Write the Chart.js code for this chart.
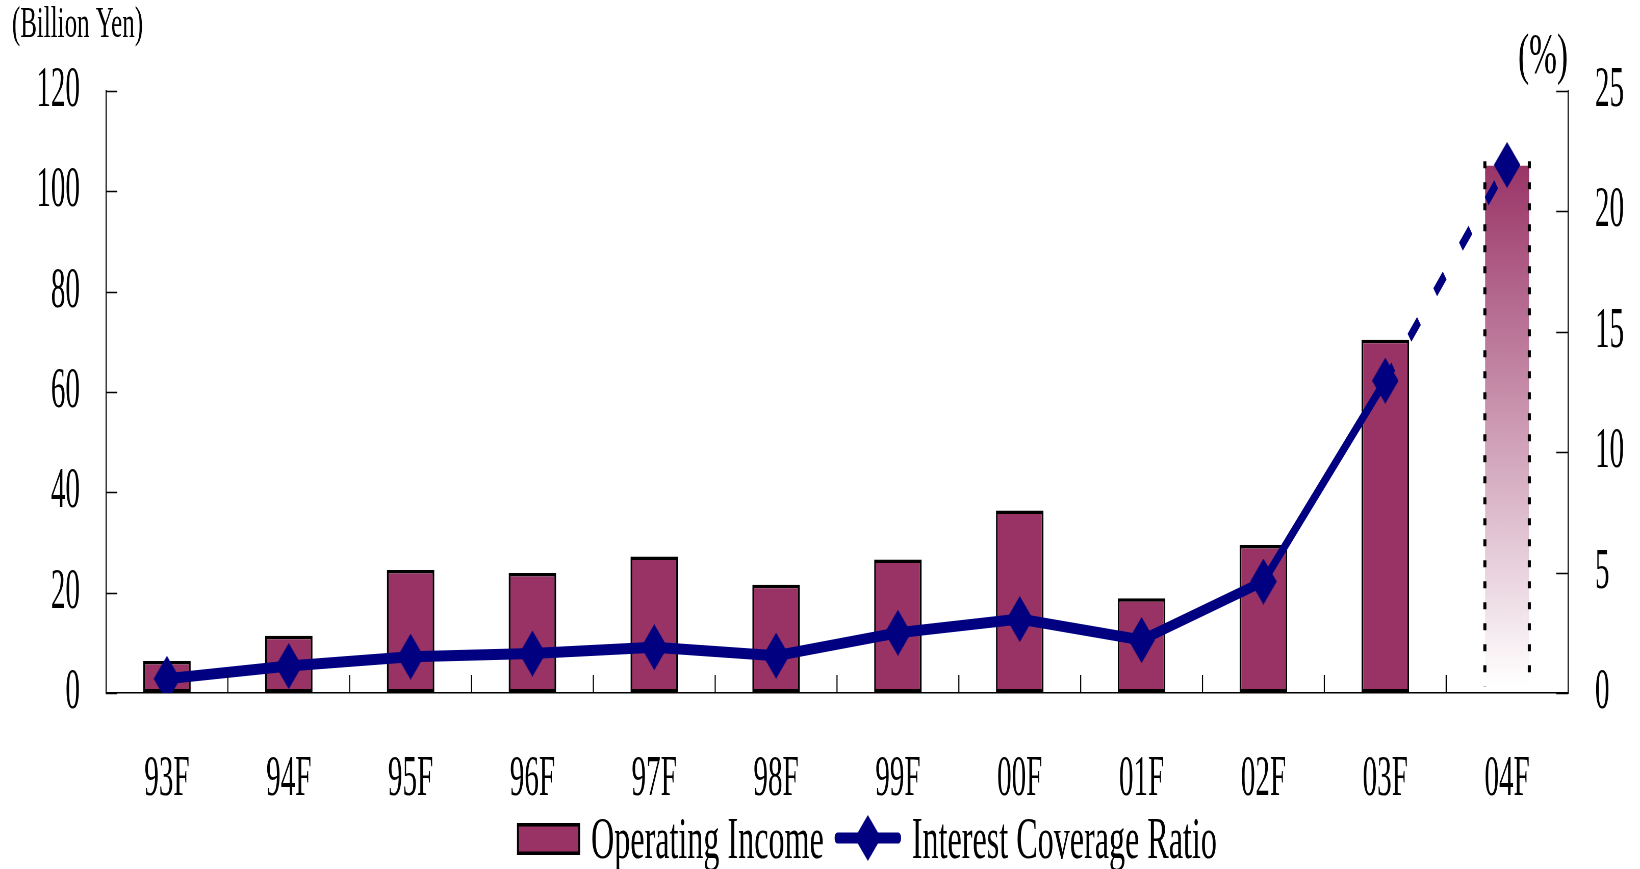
<!DOCTYPE html>
<html><head><meta charset="utf-8">
<script src="https://cdn.jsdelivr.net/npm/chart.js@4/dist/chart.umd.min.js"></script>
<style>
html,body{margin:0;padding:0;background:#fff;overflow:hidden;width:1640px;height:869px;}
#wrap{position:absolute;left:0;top:0;width:3216px;height:869px;transform:scaleX(0.509950);transform-origin:0 0;}
</style></head><body>
<div id="wrap"><canvas id="c"></canvas></div>
<script>
// ---- data ----
const categories = ['93F','94F','95F','96F','97F','98F','99F','00F','01F','02F','03F','04F'];
const operatingIncome = [6.4, 11.4, 24.5, 23.9, 27.2, 21.6, 26.6, 36.4, 18.9, 29.5, 70.4, 105.8];
const interestCoverage = [0.59, 1.12, 1.51, 1.64, 1.90, 1.55, 2.50, 3.07, 2.20, 4.63, 12.97, 21.93];
const leftTicks = [0, 20, 40, 60, 80, 100, 120];
const rightTicks = [0, 5, 10, 15, 20, 25];
const seriesNames = ['Operating Income', 'Interest Coverage Ratio'];
const leftUnit = '(Billion Yen)';
const rightUnit = '(%)';
const forecastIndex = 11;

// ---- style ----
const SX = 1640 / 3216;
const FONT = "'Liberation Serif', 'Times New Roman', serif";
const BAR = '#993366', LINE = '#000080';

function makeDiamond(w, h, color) {
  const cv = document.createElement('canvas');
  cv.width = w; cv.height = h;
  const c = cv.getContext('2d');
  c.fillStyle = color;
  c.beginPath();
  c.moveTo(0, h / 2); c.lineTo(w / 2, 0); c.lineTo(w, h / 2); c.lineTo(w / 2, h);
  c.closePath(); c.fill();
  return cv;
}
const diamond = makeDiamond(52, 46, LINE);

function fadeFill(c) {
  const chart = c.chart, a = chart.chartArea;
  if (!a || !chart.scales.yL) return BAR;
  const y0 = chart.scales.yL.getPixelForValue(operatingIncome[forecastIndex]);
  const g = chart.ctx.createLinearGradient(0, y0, 0, a.bottom - 8);
  g.addColorStop(0, BAR);
  g.addColorStop(1, '#ffffff');
  return g;
}

const decor = {
  id: 'decor',
  afterDatasetDraw(chart, args) {
    if (args.index !== 0) return;
    const ctx = chart.ctx;
    const bar = chart.getDatasetMeta(0).data[forecastIndex];
    const p = bar.getProps(['x', 'y', 'width', 'base'], true);
    const l = p.x - p.width / 2 + 3, r = p.x + p.width / 2 - 3;
    ctx.save();
    ctx.strokeStyle = '#000';
    ctx.lineWidth = 6;
    ctx.setLineDash([7, 14]);
    ctx.beginPath();
    ctx.moveTo(l, p.y - 1); ctx.lineTo(l, p.base - 6);
    ctx.stroke();
    ctx.beginPath();
    ctx.moveTo(r, p.y - 1); ctx.lineTo(r, p.base - 15);
    ctx.stroke();
    ctx.restore();
  },
  afterDraw(chart) {
    const ctx = chart.ctx, a = chart.chartArea;
    const xs = chart.scales.x, yL = chart.scales.yL, yR = chart.scales.yR;
    ctx.save();
    ctx.strokeStyle = '#000';
    // inward ticks on value axes
    ctx.lineWidth = 1.5;
    ctx.beginPath();
    leftTicks.forEach(v => { const y = Math.round(yL.getPixelForValue(v)) + 0.5; ctx.moveTo(a.left, y); ctx.lineTo(a.left + 22, y); });
    rightTicks.forEach(v => { const y = Math.round(yR.getPixelForValue(v)) + 0.5; ctx.moveTo(a.right - 23, y); ctx.lineTo(a.right, y); });
    ctx.stroke();
    // category boundary ticks
    ctx.lineWidth = 2.2;
    ctx.beginPath();
    for (let i = 0; i < categories.length - 1; i++) {
      const bx = (xs.getPixelForValue(i) + xs.getPixelForValue(i + 1)) / 2;
      ctx.moveTo(bx, a.bottom); ctx.lineTo(bx, a.bottom - 18);
    }
    ctx.stroke();

    // unit labels
    ctx.fillStyle = '#000';
    ctx.textBaseline = 'middle';
    ctx.save();
    ctx.textAlign = 'left';
    ctx.font = '44px ' + FONT;
    ctx.translate(12 / SX, 25);
    ctx.scale(1.11, 1);
    ctx.fillText(leftUnit, 0, 0);
    ctx.restore();
    ctx.save();
    ctx.textAlign = 'center';
    ctx.font = '57px ' + FONT;
    ctx.translate(1543 / SX, 58);
    ctx.scale(1.15, 1);
    ctx.fillText(rightUnit, 0, 0);
    ctx.restore();

    // legend
    const HS = 1.05;
    ctx.font = '60px ' + FONT;
    ctx.textAlign = 'left';
    const swW = 63 / SX, gap = 11 / SX, lnW = 66 / SX;
    let x = 517 / SX;
    const cy = 839;
    ctx.fillStyle = BAR;
    ctx.fillRect(x, cy - 16, swW, 32);
    ctx.lineWidth = 3.5;
    ctx.strokeStyle = '#000';
    ctx.strokeRect(x + 1.75, cy - 16 + 1.75, swW - 3.5, 28.5);
    x += swW + gap;
    ctx.fillStyle = '#000';
    ctx.save(); ctx.translate(x, cy + 3); ctx.scale(HS, 1); ctx.fillText(seriesNames[0], 0, 0); ctx.restore();
    x += ctx.measureText(seriesNames[0]).width * HS + gap;
    ctx.strokeStyle = LINE; ctx.lineWidth = 11; ctx.lineCap = 'round';
    ctx.beginPath(); ctx.moveTo(x + 5, cy - 1); ctx.lineTo(x + lnW - 5, cy - 1); ctx.stroke();
    ctx.drawImage(diamond, x + lnW / 2 - diamond.width / 2, cy - 1 - diamond.height / 2);
    x += lnW + gap;
    ctx.fillStyle = '#000';
    ctx.save(); ctx.translate(x, cy + 3); ctx.scale(HS, 1); ctx.fillText(seriesNames[1], 0, 0); ctx.restore();
    ctx.restore();
  }
};

const tickFont = { family: FONT, size: 57 };

new Chart(document.getElementById('c'), {
  data: {
    labels: categories,
    datasets: [
      {
        type: 'bar', label: seriesNames[0], data: operatingIncome, yAxisID: 'yL', order: 1,
        backgroundColor: c => c.dataIndex === forecastIndex ? fadeFill(c) : BAR,
        borderColor: c => c.dataIndex === forecastIndex ? 'rgba(0,0,0,0)' : '#000',
        borderWidth: 3.5, borderSkipped: false,
        barPercentage: 0.39, categoryPercentage: 1
      },
      {
        type: 'line', label: seriesNames[1], data: interestCoverage, yAxisID: 'yR', order: 0,
        borderColor: LINE, backgroundColor: LINE, borderWidth: 11, tension: 0,
        borderCapStyle: 'butt', borderJoinStyle: 'round',
        pointStyle: diamond, pointRadius: 23, pointHoverRadius: 23,
        pointBackgroundColor: LINE, pointBorderColor: LINE, pointBorderWidth: 0,
        segment: {
          borderDash: c => c.p1DataIndex === forecastIndex ? [25, 43] : undefined,
          borderDashOffset: c => c.p1DataIndex === forecastIndex ? 4 : undefined
        }
      }
    ]
  },
  options: {
    responsive: true, maintainAspectRatio: false, animation: false, devicePixelRatio: 1,
    layout: { padding: { top: 91, bottom: 0, left: 0, right: 0 } },
    plugins: { legend: { display: false }, tooltip: { enabled: false } },
    scales: {
      x: {
        offset: true,
        grid: { display: true, drawOnChartArea: false, drawTicks: false },
        border: { display: true, color: '#000', width: 1.5 },
        ticks: { color: '#000', font: tickFont, padding: 53, maxRotation: 0, autoSkip: false },
        afterFit(s) { s.height = 869 - 693; }
      },
      yL: {
        position: 'left', min: 0, max: 120,
        afterBuildTicks(s) { s.ticks = leftTicks.map(v => ({ value: v })); },
        grid: { display: true, drawOnChartArea: false, drawTicks: false },
        border: { display: true, color: '#000', width: 2.2 },
        ticks: { color: '#000', font: tickFont, padding: 51 },
        afterFit(s) { s.width = 106 / SX; }
      },
      yR: {
        position: 'right', min: 0, max: 25,
        afterBuildTicks(s) { s.ticks = rightTicks.map(v => ({ value: v })); },
        grid: { display: true, drawOnChartArea: false, drawTicks: false },
        border: { display: true, color: '#000', width: 2.2 },
        ticks: { color: '#000', font: tickFont, padding: 53 },
        afterFit(s) { s.width = (1640 - 1568) / SX; }
      }
    }
  },
  plugins: [decor]
});
</script>
</body></html>
